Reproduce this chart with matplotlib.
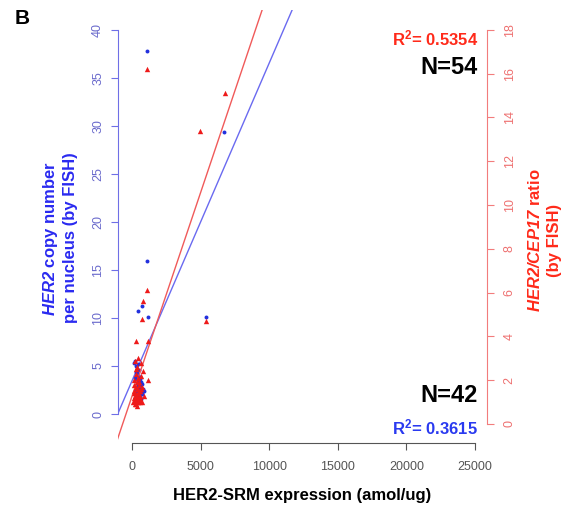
import numpy as np
import matplotlib
matplotlib.use("Agg")
import matplotlib.pyplot as plt

plt.rcParams['font.family'] = ['Liberation Sans', 'DejaVu Sans']
plt.rcParams['mathtext.fontset'] = 'custom'
plt.rcParams['mathtext.rm'] = 'Liberation Sans'
plt.rcParams['mathtext.bf'] = 'Liberation Sans:bold'
plt.rcParams['mathtext.it'] = 'Liberation Sans:italic'
plt.rcParams['mathtext.bfit'] = 'Liberation Sans:italic:bold'

# HER2 copy number per nucleus (left axis, blue dots)
copy_x = [1115, 6710, 1070, 460, 707, 1190, 5370,
          150, 250, 300, 350, 420, 500, 550, 600, 650, 700, 800, 900,
          200, 300, 380, 450, 520, 580, 640, 700, 260, 330, 400, 470,
          540, 610, 680, 750, 350, 420, 480, 560, 620, 300, 450]
copy_y = [37.8, 29.4, 15.9, 10.7, 11.2, 10.1, 10.1,
          5.3, 5.5, 5.0, 4.3, 4.1, 4.6, 3.9, 3.6, 3.3, 3.1, 2.6, 2.4,
          3.8, 3.5, 3.2, 2.9, 2.7, 2.5, 2.3, 2.1, 4.4, 4.0, 3.7, 3.4,
          3.0, 2.8, 2.6, 2.2, 1.9, 1.7, 2.0, 1.8, 1.6, 2.4, 5.2]

# HER2/CEP17 ratio (right axis, red triangles)
ratio_x = [1115, 4960, 6760, 5400, 1115, 780, 707, 290, 1190, 1190,
           100, 150, 200, 250, 300, 350, 400, 450, 500, 550, 600, 650, 700, 750, 800, 850,
           120, 180, 240, 310, 370, 430, 490, 560, 620, 680,
           140, 210, 280, 340, 410, 470, 530, 590,
           160, 230, 320, 390, 460, 520, 260, 360, 440, 580]
ratio_y = [16.2, 13.4, 15.1, 4.7, 6.1, 5.6, 4.8, 3.8, 3.8, 2.0,
           1.0, 1.2, 0.9, 1.4, 1.1, 1.6, 1.3, 1.0, 1.8, 1.2, 1.5, 2.2, 1.0, 1.7, 2.4, 1.3,
           2.0, 1.5, 1.1, 0.9, 2.6, 1.4, 1.9, 1.1, 2.8, 1.6,
           1.8, 1.3, 2.3, 1.0, 1.2, 2.1, 1.5, 1.0,
           1.4, 2.9, 1.7, 0.8, 1.6, 1.2, 2.5, 1.9, 3.0, 1.3]

# regression lines (intercept, slope)
copy_fit = (3.45, 0.00331)
ratio_fit = (1.27, 0.00186)

x_ticks = [0, 5000, 10000, 15000, 20000, 25000]
copy_ticks = [0, 5, 10, 15, 20, 25, 30, 35, 40]
ratio_ticks = [0, 2, 4, 6, 8, 10, 12, 14, 16, 18]

blue_axis = '#6f6fe6'
red_axis = '#f27c7c'
gray = '#555555'

fig = plt.figure(figsize=(5.61, 5.11), dpi=100)
ax = fig.add_axes([118 / 561, 68 / 511, 369 / 561, 433 / 511])
ax2 = ax.twinx()

ax.set_xlim(-1020, 25875)
ax.set_ylim(-3.02, 42.08)
ax2.set_ylim(-0.868, 18.91)

xx = np.array([-2000, 30000])
ax.plot(xx, copy_fit[0] + copy_fit[1] * xx, color='#6a6af0', lw=1.0)
ax2.plot(xx, ratio_fit[0] + ratio_fit[1] * xx, color='#f05a5a', lw=1.0)

ax2.scatter(ratio_x, ratio_y, marker='^', s=15, color='#ee1a1a', linewidths=0, zorder=3)
ax.scatter(copy_x, copy_y, marker='o', s=8, color='#2230dd', linewidths=0, zorder=3)

for a in (ax, ax2):
    a.spines['top'].set_visible(False)
    a.patch.set_visible(False)
ax.spines['right'].set_visible(False)
ax2.spines['left'].set_visible(False)
ax2.spines['bottom'].set_visible(False)

ax.spines['left'].set_bounds(0, 40)
ax.spines['left'].set_color(blue_axis)
ax.spines['bottom'].set_bounds(0, 25000)
ax.spines['bottom'].set_color(gray)
ax2.spines['right'].set_bounds(0, 18)
ax2.spines['right'].set_color(red_axis)

ax.set_xticks(x_ticks)
ax.set_xticklabels([str(t) for t in x_ticks])
ax.set_yticks(copy_ticks)
ax2.set_yticks(ratio_ticks)

ax.tick_params(axis='x', colors=gray, labelcolor=gray, direction='out', length=5, pad=8, labelsize=9)
ax.tick_params(axis='y', colors=blue_axis, labelcolor='#6a6acc', direction='out', length=5,
               pad=5, labelsize=9, labelrotation=90)
ax2.tick_params(axis='y', colors=red_axis, labelcolor='#ee7070', direction='out', length=5,
                pad=7, labelsize=9, labelrotation=90)
for lbl in ax.get_yticklabels():
    lbl.set_va('center')
for lbl in ax2.get_yticklabels():
    lbl.set_va('center')

ax.set_xlabel('HER2-SRM expression (amol/ug)', fontsize=12, fontweight='bold', labelpad=11)

fig.text(51 / 561, 1 - 238 / 511, r'$\mathbfit{HER2}$ copy number', rotation=90, color='#2a2af0',
         fontsize=12, fontweight='bold', ha='center', va='center')
fig.text(70 / 561, 1 - 238 / 511, 'per nucleus (by FISH)', rotation=90, color='#2a2af0',
         fontsize=12, fontweight='bold', ha='center', va='center')
fig.text(535 / 561, 1 - 240 / 511, r'$\mathbfit{HER2/CEP17}$ ratio', rotation=90, color='#ff2a1a',
         fontsize=12, fontweight='bold', ha='center', va='center')
fig.text(554 / 561, 1 - 240 / 511, '(by FISH)', rotation=90, color='#ff2a1a',
         fontsize=12, fontweight='bold', ha='center', va='center')

fig.text(478 / 561, 1 - 38 / 511, r'R$^{\mathbf{2}}$= 0.5354', color='#ff2a1a', fontsize=12,
         fontweight='bold', ha='right', va='center')
fig.text(478 / 561, 1 - 68 / 511, 'N=54', color='black', fontsize=17,
         fontweight='bold', ha='right', va='center')
fig.text(478 / 561, 1 - 395 / 511, 'N=42', color='black', fontsize=17,
         fontweight='bold', ha='right', va='center')
fig.text(478 / 561, 1 - 427 / 511, r'R$^{\mathbf{2}}$= 0.3615', color='#2a3af0', fontsize=12,
         fontweight='bold', ha='right', va='center')
fig.text(22 / 561, 1 - 18 / 511, 'B', color='black', fontsize=15, fontweight='bold',
         ha='center', va='center')

fig.savefig('out.png', dpi=100)
